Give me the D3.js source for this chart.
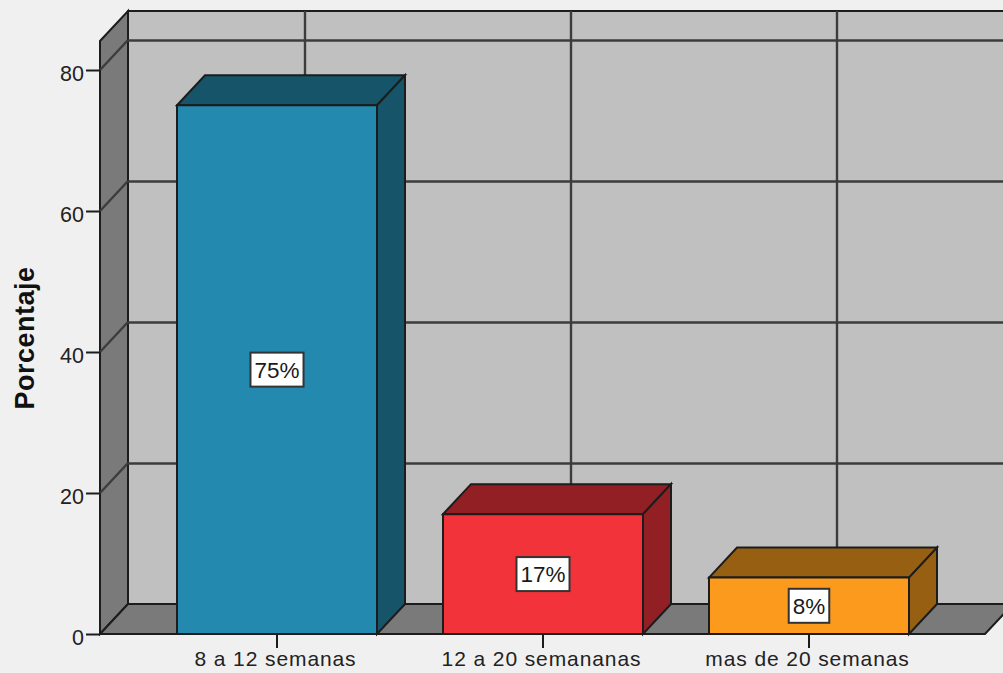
<!DOCTYPE html>
<html>
<head>
<meta charset="utf-8">
<script src="https://cdn.jsdelivr.net/npm/d3@7/dist/d3.min.js"></script>
<style>
html, body { margin: 0; padding: 0; background: #f0f0f0; overflow: hidden; }
svg { display: block; font-family: "Liberation Sans", Arial, sans-serif; }
</style>
</head>
<body>
<svg id="chart" width="1003" height="673"></svg>
<script>
const categories = ["8 a 12 semanas", "12 a 20 semananas", "mas de 20 semanas"];
const percentages = [75, 17, 8];
const frontColors = ["#2389ae", "#f2333a", "#fb9a1d"];
const shadeColors = ["#165569", "#921f24", "#975f12"];
const yTicks = [0, 20, 40, 60, 80];
const yTitle = "Porcentaje";

const svg = d3.select("#chart");
const ink = "#1c1c1c";

// Oblique projection offset of the 3D box
const depthX = 28, depthY = -30;

const y = d3.scaleLinear().domain([0, 80]).range([634, 70]);
const yMax = y.invert(41);
const x = d3.scaleBand().domain(categories).range([144, 942]);
const barWidth = 200;
const center = c => x(c) + x.bandwidth() / 2;

const floorLeft = 100, floorRight = 985;
const baseY = y(0), topY = y(yMax);

const poly = (pts, fill, sw = 2) => svg.append("polygon")
  .attr("points", pts.map(p => p.join(",")).join(" "))
  .attr("fill", fill).attr("stroke", ink).attr("stroke-width", sw)
  .attr("stroke-linejoin", "miter");

// Back wall, side wall and floor
poly([[floorLeft + depthX, topY + depthY], [floorRight + depthX + 40, topY + depthY],
      [floorRight + depthX + 40, baseY + depthY], [floorLeft + depthX, baseY + depthY]], "#c0c0c0");
poly([[floorLeft, topY], [floorLeft + depthX, topY + depthY],
      [floorLeft + depthX, baseY + depthY], [floorLeft, baseY]], "#7a7a7a");
poly([[floorLeft, baseY], [floorLeft + depthX, baseY + depthY],
      [floorRight + depthX, baseY + depthY], [floorRight, baseY]], "#7a7a7a");

// Grid lines on the back wall and their continuation across the side wall
const grid = svg.append("g").attr("stroke", "#3c3c3c").attr("stroke-width", 2.4).attr("fill", "none");
yTicks.filter(t => t > 0).forEach(t => {
  grid.append("line")
    .attr("x1", floorLeft + depthX).attr("x2", 1003)
    .attr("y1", y(t) + depthY + 0.5).attr("y2", y(t) + depthY + 0.5);
  grid.append("line")
    .attr("x1", floorLeft).attr("x2", floorLeft + depthX)
    .attr("y1", y(t)).attr("y2", y(t) + depthY);
});
categories.forEach(c => {
  grid.append("line")
    .attr("x1", center(c) + depthX).attr("x2", center(c) + depthX)
    .attr("y1", topY + depthY).attr("y2", baseY + depthY);
});

// Bars: top face, side face, then front face
categories.forEach((c, i) => {
  const l = center(c) - barWidth / 2, r = l + barWidth, t = y(percentages[i]);
  poly([[l, t], [l + depthX, t + depthY], [r + depthX, t + depthY], [r, t]], shadeColors[i]);
  poly([[r, t], [r + depthX, t + depthY], [r + depthX, baseY + depthY], [r, baseY]], shadeColors[i]);
  poly([[l, t], [r, t], [r, baseY], [l, baseY]], frontColors[i]);
});

// Axes
const yAxis = svg.append("g").attr("transform", `translate(${floorLeft},0)`)
  .call(d3.axisLeft(y).tickValues(yTicks).tickSize(14).tickPadding(2).tickFormat(d3.format("d")));
yAxis.select(".domain").remove();
const xAxis = svg.append("g").attr("transform", `translate(0,${baseY})`)
  .call(d3.axisBottom(x).tickSize(14).tickPadding(3));
xAxis.select(".domain").remove();
svg.selectAll(".tick line").attr("stroke", ink).attr("stroke-width", 2);
yAxis.selectAll(".tick text").attr("fill", "#222").attr("dy", "0.5em").style("font-size", "21.5px");
xAxis.selectAll(".tick text").attr("fill", "#222").attr("dy", "0.71em").attr("dx", -1.5)
  .style("font-size", "21px").style("letter-spacing", "0.9px");

svg.append("text")
  .attr("transform", "translate(34,338) rotate(-90)")
  .attr("text-anchor", "middle")
  .attr("font-size", 27).attr("font-weight", "bold").attr("fill", "#111")
  .style("letter-spacing", "0.5px")
  .text(yTitle);

// Value labels in white boxes at the middle of each front face
categories.forEach((c, i) => {
  const cx = center(c), cy = (y(percentages[i]) + baseY) / 2;
  const g = svg.append("g").attr("transform", `translate(${cx},${cy})`);
  const text = g.append("text")
    .attr("text-anchor", "middle").attr("dy", "0.36em")
    .attr("font-size", 22.5).attr("fill", "#1a1a1a")
    .text(d3.format("d")(percentages[i]) + "%");
  const w = text.node().getComputedTextLength() + 8;
  g.insert("rect", "text")
    .attr("x", -w / 2).attr("y", -17).attr("width", w).attr("height", 34)
    .attr("fill", "#fff").attr("stroke", "#333").attr("stroke-width", 2);
});
</script>
</body>
</html>
